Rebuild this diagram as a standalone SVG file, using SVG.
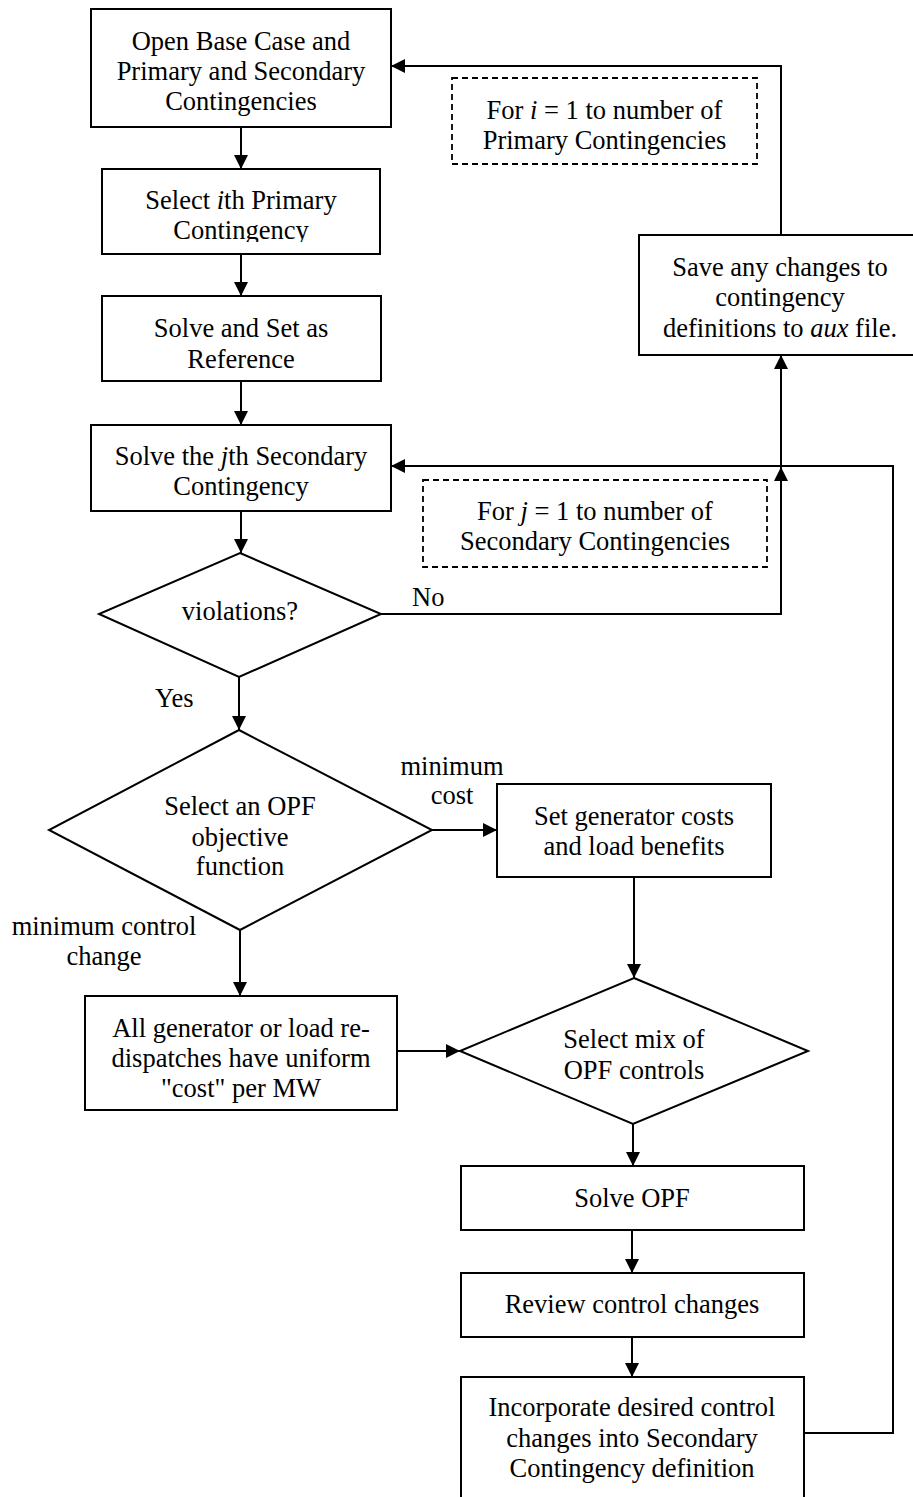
<svg xmlns="http://www.w3.org/2000/svg" width="913" height="1497" viewBox="0 0 913 1497">
  <style>
    .box { fill: #fff; stroke: #000; stroke-width: 2; }
    .dash { fill: none; stroke: #000; stroke-width: 1.8; stroke-dasharray: 6 4; }
    .wire { fill: none; stroke: #000; stroke-width: 2; }
    .arrow { marker-end: url(#head); }
    text { font-family: "Liberation Serif", "Times New Roman", serif; font-size: 26.5px; fill: #000; }
    .c { text-anchor: middle; }
    .it { font-style: italic; }
  </style>
  <defs>
    <marker id="head" markerUnits="userSpaceOnUse" markerWidth="14" markerHeight="14" refX="14" refY="7" orient="auto">
      <path d="M0,0 L14,7 L0,14 z" fill="#000"/>
    </marker>
    <clipPath id="clipSelect"><rect x="102" y="169" width="278" height="73"/></clipPath>
    <clipPath id="clipObjective"><rect x="49" y="730" width="383" height="146"/></clipPath>
  </defs>
  <rect width="913" height="1497" fill="#fff"/>

  <!-- connectors -->
  <g id="connectors">
    <path class="wire arrow" d="M241,127 V169"/>
    <path class="wire arrow" d="M241,254 V296"/>
    <path class="wire arrow" d="M241,381 V425"/>
    <path class="wire arrow" d="M241,511 V553"/>
    <path class="wire arrow" d="M239,677 V730"/>
    <path class="wire arrow" d="M381,614 H781 V467"/>
    <path class="wire arrow" d="M781,466 V355"/>
    <path class="wire arrow" d="M781,235 V66 H391"/>
    <path class="wire arrow" d="M804,1433 H893 V466 H391"/>
    <path class="wire arrow" d="M240,930 V996"/>
    <path class="wire arrow" d="M432,830 H497"/>
    <path class="wire arrow" d="M634,877 V978"/>
    <path class="wire arrow" d="M397,1051 H460"/>
    <path class="wire arrow" d="M633,1124 V1166"/>
    <path class="wire arrow" d="M632,1230 V1273"/>
    <path class="wire arrow" d="M632,1337 V1377"/>
  </g>

  <!-- edge labels -->
  <g id="labels">
    <text x="412" y="606">No</text>
    <text x="155" y="707">Yes</text>
    <text class="c" x="104" y="935">minimum control</text>
    <text class="c" x="104" y="965">change</text>
    <text class="c" x="452" y="775">minimum</text>
    <text class="c" x="452" y="804">cost</text>
  </g>

  <g id="open-base">
    <rect class="box" x="91" y="9" width="300" height="118"/>
    <text class="c" x="241" y="50">Open Base Case and</text>
    <text class="c" x="241" y="80">Primary and Secondary</text>
    <text class="c" x="241" y="110">Contingencies</text>
  </g>

  <g id="select-primary">
    <rect class="box" x="102" y="169" width="278" height="85"/>
    <g clip-path="url(#clipSelect)">
      <text class="c" x="241" y="209">Select <tspan class="it">i</tspan>th Primary</text>
      <text class="c" x="241" y="239">Contingency</text>
    </g>
  </g>

  <g id="solve-reference">
    <rect class="box" x="102" y="296" width="279" height="85"/>
    <text class="c" x="241" y="337">Solve and Set as</text>
    <text class="c" x="241" y="368">Reference</text>
  </g>

  <g id="solve-secondary">
    <rect class="box" x="91" y="425" width="300" height="86"/>
    <text class="c" x="241" y="465">Solve the <tspan class="it">j</tspan>th Secondary</text>
    <text class="c" x="241" y="495">Contingency</text>
  </g>

  <g id="loop-primary">
    <rect class="dash" x="452" y="78" width="305" height="86"/>
    <text class="c" x="604.5" y="119">For <tspan class="it">i</tspan> = 1 to number of</text>
    <text class="c" x="604.5" y="149">Primary Contingencies</text>
  </g>

  <g id="save-aux">
    <rect class="box" x="639" y="235" width="282" height="120"/>
    <text class="c" x="780" y="276">Save any changes to</text>
    <text class="c" x="780" y="306">contingency</text>
    <text class="c" x="780" y="337">definitions to <tspan class="it">aux</tspan> file.</text>
  </g>

  <g id="loop-secondary">
    <rect class="dash" x="423" y="480" width="344" height="87"/>
    <text class="c" x="595" y="520">For <tspan class="it">j</tspan> = 1 to number of</text>
    <text class="c" x="595" y="550">Secondary Contingencies</text>
  </g>

  <g id="violations">
    <polygon class="box" points="240,553 381,614 239,677 99,614"/>
    <text class="c" x="240" y="620">violations?</text>
  </g>

  <g id="objective">
    <polygon class="box" points="239,730 432,830 240,930 49,830"/>
    <g clip-path="url(#clipObjective)">
      <text class="c" x="240" y="815">Select an OPF</text>
      <text class="c" x="240" y="846">objective</text>
      <text class="c" x="240" y="875">function</text>
    </g>
  </g>

  <g id="gen-costs">
    <rect class="box" x="497" y="784" width="274" height="93"/>
    <text class="c" x="634" y="825">Set generator costs</text>
    <text class="c" x="634" y="855">and load benefits</text>
  </g>

  <g id="uniform-cost">
    <rect class="box" x="85" y="996" width="312" height="114"/>
    <text class="c" x="241" y="1037">All generator or load re-</text>
    <text class="c" x="241" y="1067">dispatches have uniform</text>
    <text class="c" x="241" y="1097">"cost" per MW</text>
  </g>

  <g id="control-mix">
    <polygon class="box" points="634,978 808,1051 633,1124 460,1051"/>
    <text class="c" x="634" y="1048">Select mix of</text>
    <text class="c" x="634" y="1079">OPF controls</text>
  </g>

  <g id="solve-opf">
    <rect class="box" x="461" y="1166" width="343" height="64"/>
    <text class="c" x="632" y="1207">Solve OPF</text>
  </g>

  <g id="review">
    <rect class="box" x="461" y="1273" width="343" height="64"/>
    <text class="c" x="632" y="1313">Review control changes</text>
  </g>

  <g id="incorporate">
    <rect class="box" x="461" y="1377" width="343" height="135"/>
    <text class="c" x="632" y="1416">Incorporate desired control</text>
    <text class="c" x="632" y="1447">changes into Secondary</text>
    <text class="c" x="632" y="1477">Contingency definition</text>
  </g>
</svg>
